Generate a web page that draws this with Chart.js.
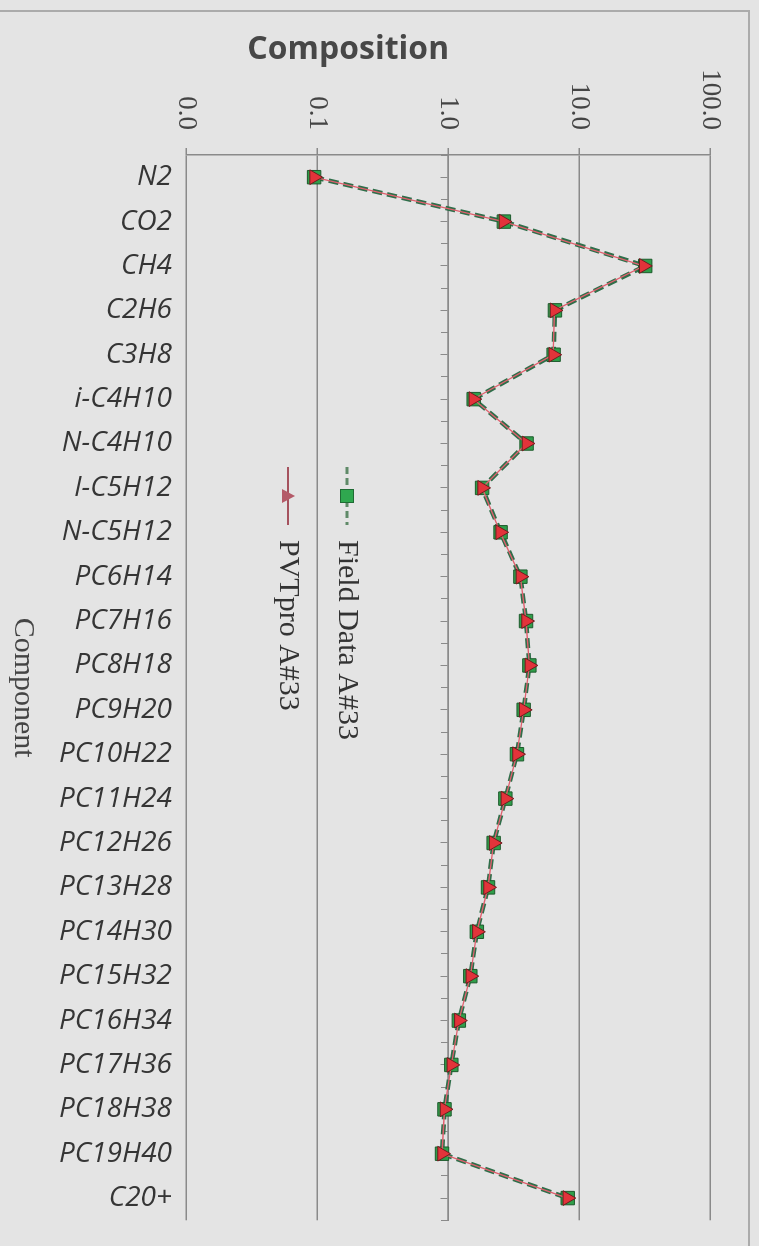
<!DOCTYPE html>
<html><head><meta charset="utf-8">
<script src="https://cdn.jsdelivr.net/npm/chart.js@4/dist/chart.umd.min.js"></script>
<style>
html,body{margin:0;padding:0;background:#e4e4e4;overflow:hidden;width:759px;height:1246px;}
#rot{position:absolute;left:0;top:0;width:1246px;height:759px;transform-origin:0 0;transform:translateX(759px) rotate(90deg);}
#frame{position:absolute;left:-3px;top:10px;width:751px;height:1250px;border-top:2px solid #ababab;border-right:2px solid #ababab;pointer-events:none;}
</style></head><body>
<div id="rot"><canvas id="c" width="1246" height="759"></canvas></div>
<div id="frame"></div>
<script>
const components = ['N2','CO2','CH4','C2H6','C3H8','i-C4H10','N-C4H10','I-C5H12','N-C5H12','PC6H14','PC7H16','PC8H18','PC9H20','PC10H22','PC11H24','PC12H26','PC13H28','PC14H30','PC15H32','PC16H34','PC17H36','PC18H38','PC19H40','C20+'];
const fieldData  = [0.095, 2.67, 32.0, 6.55, 6.40, 1.57, 3.98, 1.82, 2.52, 3.57, 3.94, 4.18, 3.78, 3.36, 2.74, 2.23, 2.02, 1.66, 1.48, 1.21, 1.06, 0.94, 0.90, 8.20];
const pvtproData = [0.095, 2.65, 31.2, 6.50, 6.35, 1.56, 3.97, 1.82, 2.50, 3.57, 3.94, 4.18, 3.78, 3.36, 2.74, 2.23, 2.02, 1.66, 1.48, 1.21, 1.06, 0.94, 0.90, 8.14];
const seriesNames = ['Field Data A#33', 'PVTpro A#33'];
const compTicks = [0.01, 0.1, 1, 10, 100];
const compTickLabels = ['0.0', '0.1', '1.0', '10.0', '100.0'];

const GRID = '#8a8a8a';

function makeGlyph(kind) {
  const c = document.createElement('canvas');
  c.width = 58; c.height = 18;
  const g = c.getContext('2d');
  if (kind === 0) {
    g.strokeStyle = '#5f8a68'; g.lineWidth = 3; g.setLineDash([7, 4]);
    g.beginPath(); g.moveTo(0, 9); g.lineTo(58, 9); g.stroke();
    g.setLineDash([]);
    g.fillStyle = '#2fa84f'; g.fillRect(22, 2, 14, 14);
    g.strokeStyle = '#1f6b34'; g.lineWidth = 1; g.strokeRect(22.5, 2.5, 13, 13);
  } else {
    g.strokeStyle = '#a5525e'; g.lineWidth = 2;
    g.beginPath(); g.moveTo(0, 9); g.lineTo(58, 9); g.stroke();
    g.fillStyle = '#b45a68';
    g.beginPath(); g.moveTo(29, 2); g.lineTo(36, 15); g.lineTo(22, 15); g.closePath(); g.fill();
  }
  return c;
}
const glyphs = [makeGlyph(0), makeGlyph(1)];

const legendPlacer = {
  id: 'legendPlacer',
  beforeDraw(chart) {
    const lg = chart.legend;
    if (!lg) return;
    lg.left = 438; lg.top = 368; lg.right = 1100; lg.bottom = 740;
    lg.width = lg.right - lg.left; lg.height = lg.bottom - lg.top;
  }
};

new Chart(document.getElementById('c'), {
  type: 'line',
  data: {
    labels: components,
    datasets: [
      {
        label: seriesNames[0], data: fieldData, order: 2,
        borderColor: '#2f6e4a', borderWidth: 4.5, borderDash: [10, 5],
        pointStyle: 'rect', pointRadius: 9.5, pointBackgroundColor: '#2f9e4a',
        pointBorderColor: '#1d5a2c', pointBorderWidth: 1, tension: 0, fill: false
      },
      {
        label: seriesNames[1], data: pvtproData, order: 1,
        borderColor: '#e0606e', borderWidth: 1.3,
        pointStyle: 'triangle', pointRadius: 8.5, pointBackgroundColor: '#e2333a',
        pointBorderColor: '#6e1c20', pointBorderWidth: 1, tension: 0, fill: false
      }
    ]
  },
  options: {
    responsive: false, animation: false, devicePixelRatio: 1, events: [],
    layout: { padding: { left: 0, top: 49, right: 15, bottom: 0 } },
    plugins: {
      tooltip: { enabled: false },
      legend: {
        position: 'chartArea', align: 'start',
        labels: {
          usePointStyle: true, pointStyleWidth: 58, padding: 29,
          color: '#333333', font: { family: 'Liberation Serif', size: 30 },
          generateLabels: (chart) => chart.data.datasets.map((ds, i) => ({
            text: ds.label, pointStyle: glyphs[i], datasetIndex: i, hidden: false,
            fontColor: '#333333', lineWidth: 0, strokeStyle: 'rgba(0,0,0,0)', fillStyle: 'rgba(0,0,0,0)'
          }))
        }
      }
    },
    scales: {
      x: {
        type: 'category', position: 'bottom', offset: true,
        grid: { display: false, drawTicks: false },
        border: { display: false },
        ticks: {
          autoSkip: false, minRotation: 90, maxRotation: 90, padding: 14,
          color: '#353535', font: { family: 'Open Sans', style: 'italic', size: 28 }
        },
        title: {
          display: true, text: 'Component', color: '#444444',
          font: { family: 'Liberation Serif', size: 30 }, padding: { top: 4, bottom: 5 }
        },
        afterFit: (s) => { s.height = 186; }
      },
      xc: {
        axis: 'x', type: 'category', position: { y: 1 }, offset: true,
        grid: { drawOnChartArea: false, offset: false, tickLength: 7, color: GRID, lineWidth: 1 },
        border: { display: true, color: GRID, width: 1.5 },
        ticks: { display: false }
      },
      xb: {
        axis: 'x', type: 'category', position: { y: 1 }, offset: true,
        grid: { drawOnChartArea: false, offset: true, tickLength: 7, color: GRID, lineWidth: 1 },
        border: { display: false },
        ticks: { display: false }
      },
      y: {
        type: 'logarithmic', position: 'left', min: 0.01, max: 100,
        afterBuildTicks: (s) => { s.ticks = compTicks.map(v => ({ value: v })); },
        grid: { color: GRID, lineWidth: 1.5, tickLength: 7, drawTicks: true },
        border: { display: true, color: GRID, width: 1.5 },
        ticks: {
          padding: 18, color: '#444444', font: { family: 'Liberation Serif', size: 27 },
          callback: (v, i) => compTickLabels[i]
        },
        title: {
          display: true, text: 'Composition                        ', color: '#474747',
          font: { family: 'Open Sans', weight: 'bold', size: 32 }, padding: { top: 31, bottom: 0 }
        },
        afterFit: (s) => { s.width = 155; }
      }
    }
  },
  plugins: [legendPlacer]
});
</script>
</body></html>
